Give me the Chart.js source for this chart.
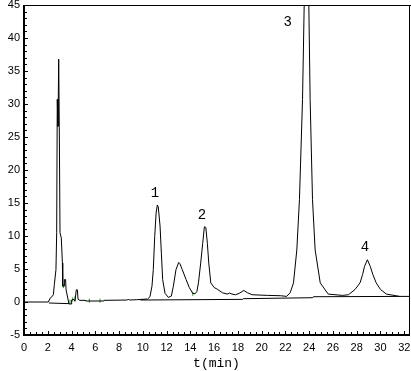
<!DOCTYPE html>
<html>
<head>
<meta charset="utf-8">
<script src="https://cdn.jsdelivr.net/npm/chart.js@4.4.1/dist/chart.umd.min.js"></script>
<style>
  html, body { margin: 0; padding: 0; background: #fff; }
</style>
</head>
<body>
<canvas id="chart" width="411" height="371"></canvas>
<script>
// detector signal (time in min, response)
const signalT = [
  0, 2.05, 2.19, 2.35, 2.47, 2.55, 2.69, 2.75, 2.8, 2.86,
  2.92, 2.97, 3.03, 3.14, 3.23, 3.26, 3.37, 3.4, 3.5, 3.54,
  3.68, 3.79, 3.96, 4.01, 4.2, 4.29, 4.4, 4.49, 4.55, 4.71,
  5.14, 5.18, 6.68, 6.72, 8.7, 8.78, 8.86, 9.49, 10.4, 10.6,
  10.77, 10.88, 11.0, 11.12, 11.22, 11.3, 11.45, 11.56, 11.67, 11.87,
  12.15, 12.4, 12.57, 12.79, 13.02, 13.12, 13.32, 13.64, 13.91, 14.2,
  14.4, 14.55, 14.68, 14.87, 15.04, 15.18, 15.3, 15.43, 15.55, 15.72,
  16.0, 16.3, 16.7, 17.1, 17.3, 17.5, 17.8, 18.1, 18.5, 18.8,
  19.2, 20.5, 21.6, 22.1, 22.4, 22.68, 22.96, 23.18, 23.44, 23.58,
  23.77, 23.97, 24.08, 24.28, 24.5, 24.93, 25.6, 26.8, 27.3, 27.86,
  28.28, 28.5, 28.66, 28.9, 29.14, 29.35, 29.64, 30.0, 30.5, 31.3,
  31.6
];
const signalV = [
  0, 0, 0.56, 0.8, 1.1, 2.6, 4.9, 10.5, 30.7, 26.6,
  36.8, 26.6, 10.5, 9.7, 5.9, 2.4, 2.4, 3.4, 3.4, 1.85,
  0.6, -0.3, -0.3, 0.3, 0.4, 0.1, 1.85, 1.85, 0.4, 0.25,
  0.25, 0.15, 0.15, 0.25, 0.3, 0.45, 0.3, 0.35, 0.45, 0.8,
  2.4, 4.9, 9.9, 13.5, 14.7, 14.4, 11.5, 7.4, 3.4, 1.3,
  0.7, 0.9, 2.4, 4.9, 6.0, 5.8, 4.9, 3.4, 2.2, 1.3,
  1.25, 1.6, 2.9, 5.9, 8.9, 11.4, 11.3, 8.9, 5.9, 2.9,
  2.2, 1.9, 1.4, 1.2, 1.35, 1.2, 1.1, 1.3, 1.75, 1.4,
  1.1, 1.0, 0.95, 0.85, 1.4, 2.9, 7.9, 15.5, 30.7, 45,
  58, 45, 30.7, 15.5, 7.9, 2.9, 1.2, 1.0, 1.1, 1.9,
  2.9, 4.2, 5.4, 6.4, 5.4, 4.2, 2.9, 1.9, 1.2, 0.95,
  0.85
];

// integration baselines (null breaks the line)
const baseT = [2.1, 3.8, 3.81, 9.8, 18.4, 18.45, 24.3, 24.35, 32.4];
const baseV = [-0.15, -0.25, null, 0.3, 0.4, 0.5, 0.65, 0.8, 0.85];

// green integration markers
const markT = [3.31, 3.87, 4.1, 4.29, 5.5, 6.4, 14.2];
const markV = [2.4, 0.05, 0.4, 0.55, 0.2, 0.2, 1.25];

// peak numbers
const peakNames = ["1", "2", "3", "4"];
const peakT = [11.03, 14.98, 22.2, 28.7];
const peakV = [16.5, 13.2, 42.4, 8.3];

const xMin = 0, xMax = 32.4, xStep = 2;
const yMin = -5, yMax = 45, yStep = 5;

const toPoints = (ts, vs) => ts.map((t, i) => ({ x: t, y: vs[i] }));

// no extra room for overhanging tick labels
function noPad(s) {
  s.paddingTop = 0;
  s.paddingBottom = 0;
  s.paddingLeft = 0;
  s.paddingRight = 0;
}

const framePlugin = {
  id: "frame",
  afterDatasetsDraw(chart) {
    const { ctx, chartArea: a, scales: { x, y } } = chart;
    ctx.save();
    ctx.strokeStyle = "#000";
    ctx.lineWidth = 1;
    ctx.beginPath();
    ctx.moveTo(a.left, a.top + 0.5);
    ctx.lineTo(chart.width, a.top + 0.5);
    ctx.moveTo(a.right + 0.5, a.top);
    ctx.lineTo(a.right + 0.5, a.bottom);
    // inside ticks on y
    for (let v = yMin; v <= yMax; v += 1) {
      const py = Math.round(y.getPixelForValue(v)) + 0.5;
      const len = v % yStep === 0 ? 4 : 3;
      ctx.moveTo(a.left, py);
      ctx.lineTo(a.left + len, py);
    }
    // inside ticks on x
    for (let i = 0; i * 0.5 <= 32; i++) {
      const px = Math.round(x.getPixelForValue(i * 0.5)) + 0.5;
      const len = i % 4 === 0 ? 4 : 3;
      ctx.moveTo(px, a.bottom);
      ctx.lineTo(px, a.bottom - len);
    }
    ctx.stroke();

    ctx.lineWidth = 2;
    ctx.beginPath();
    ctx.moveTo(a.left, a.top);
    ctx.lineTo(a.left, a.bottom + 1);
    ctx.moveTo(a.left - 1, a.bottom);
    ctx.lineTo(a.right + 1, a.bottom);
    ctx.stroke();

    ctx.fillStyle = "#000";
    ctx.font = "14px 'Liberation Mono'";
    ctx.textAlign = "center";
    ctx.textBaseline = "middle";
    peakNames.forEach((n, i) => {
      ctx.fillText(n, x.getPixelForValue(peakT[i]), y.getPixelForValue(peakV[i]));
    });
    ctx.restore();
  }
};

new Chart(document.getElementById("chart"), {
  type: "line",
  data: {
    datasets: [
      {
        data: toPoints(baseT, baseV),
        borderColor: "#000",
        borderWidth: 1,
        pointRadius: 0,
        tension: 0,
        spanGaps: false
      },
      {
        data: toPoints(signalT, signalV),
        borderColor: "#000",
        borderWidth: 1,
        pointRadius: 0,
        tension: 0
      },
      {
        data: toPoints(markT, markV),
        showLine: false,
        pointStyle: "line",
        rotation: 90,
        pointRadius: 2,
        borderColor: "#1a9a1a",
        borderWidth: 1
      }
    ]
  },
  options: {
    responsive: false,
    animation: false,
    devicePixelRatio: 1,
    layout: { autoPadding: false, padding: { top: 5, right: 2, left: 0, bottom: 0 } },
    plugins: { legend: { display: false }, tooltip: { enabled: false } },
    scales: {
      x: {
        type: "linear",
        min: xMin,
        max: xMax,
        grid: { display: false, drawTicks: false },
        border: { display: false },
        ticks: {
          stepSize: xStep,
          includeBounds: false,
          padding: 6,
          color: "#000",
          font: { family: "'Liberation Sans'", size: 11 },
          maxRotation: 0
        },
        title: {
          display: true,
          text: "t(min)",
          color: "#000",
          font: { family: "'Liberation Mono'", size: 13 },
          padding: { top: 0, bottom: 0 }
        },
        afterFit: (s) => { s.height = 36; noPad(s); }
      },
      y: {
        min: yMin,
        max: yMax,
        grid: { display: false, drawTicks: false },
        border: { display: false },
        ticks: {
          stepSize: yStep,
          padding: 4,
          color: "#000",
          font: { family: "'Liberation Sans'", size: 11 }
        },
        afterFit: (s) => { s.width = 24; noPad(s); }
      }
    }
  },
  plugins: [framePlugin]
});
</script>
</body>
</html>
